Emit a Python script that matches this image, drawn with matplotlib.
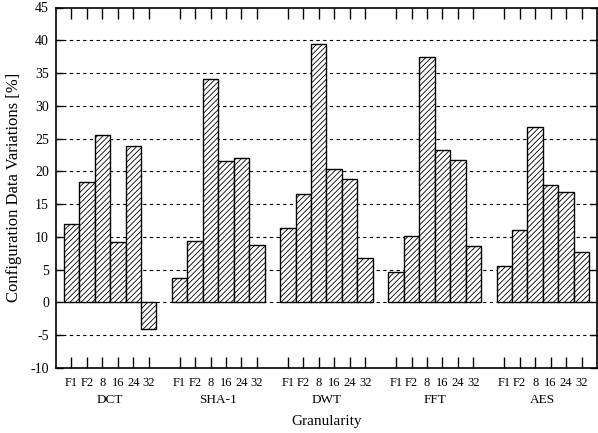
import matplotlib
matplotlib.use("Agg")
import matplotlib.pyplot as plt
import numpy as np

groups = ["DCT", "SHA-1", "DWT", "FFT", "AES"]
tick_labels = ["F1", "F2", "8", "16", "24", "32"]
dct = [12.0, 18.4, 25.6, 9.2, 23.8, -4.1]
sha1 = [3.8, 9.3, 34.1, 21.6, 22.0, 8.8]
dwt = [11.4, 16.5, 39.4, 20.3, 18.9, 6.8]
fft = [4.6, 10.2, 37.5, 23.3, 21.7, 8.6]
aes = [5.6, 11.1, 26.8, 17.9, 16.9, 7.7]
series = [dct, sha1, dwt, fft, aes]

plt.rcParams['font.family'] = ['Liberation Serif', 'DejaVu Serif']
plt.rcParams['axes.unicode_minus'] = False
plt.rcParams['hatch.linewidth'] = 0.6
plt.rcParams['hatch.color'] = '#606060'

fig = plt.figure(figsize=(5.98, 4.33), dpi=100)
ax = fig.add_axes([56/598, 1-368/433, (597-56)/598, (368-7.5)/433])

n = len(tick_labels)
positions = []
labels = []
for gi, vals in enumerate(series):
    x = np.arange(n) + gi * (n + 1)
    ax.bar(x, vals, width=1.0, facecolor='white', edgecolor='black',
           linewidth=1.0, hatch='//////', zorder=3)
    positions.extend(x)
    labels.extend(tick_labels)

ax.set_xlim(-1, 34)
ax.set_ylim(-10, 45)
ax.set_yticks(np.arange(-10, 46, 5))
for y in np.arange(-5, 41, 5):
    ax.axhline(y, color='black', lw=0.8, ls=(0, (3, 3)), zorder=1)

ax.set_xticks(positions)
ax.set_xticklabels(labels, fontsize=9)
ax.tick_params(axis='x', direction='in', length=8, width=1, top=True, pad=6.5)
ax.tick_params(axis='y', direction='in', length=5, width=1, right=True,
               labelsize=10, pad=5)
for s in ax.spines.values():
    s.set_linewidth(1.2)

for gi, g in enumerate(groups):
    cx = gi * (n + 1) + (n - 1) / 2
    ax.text(cx, -0.09, g, transform=ax.get_xaxis_transform(), ha='center',
            va='center', fontsize=9.5)

ax.set_xlabel("Granularity", fontsize=11, labelpad=18.5)
ax.set_ylabel("Configuration Data Variations [%]", fontsize=12, labelpad=6)

fig.savefig("out.png", dpi=100)
